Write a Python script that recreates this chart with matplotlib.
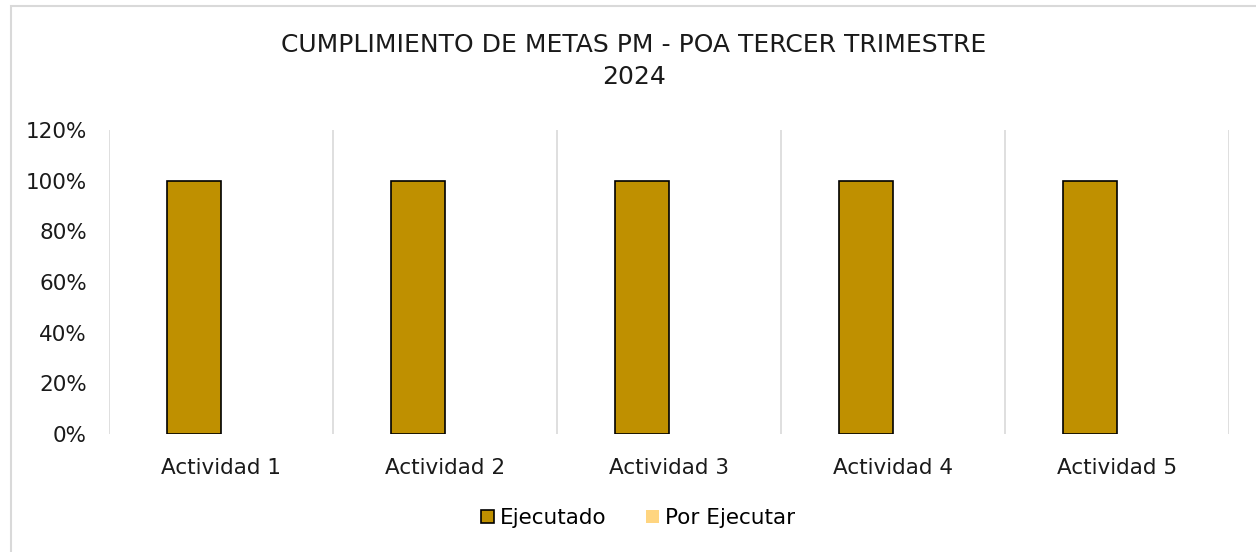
import matplotlib
matplotlib.use("Agg")
import matplotlib.pyplot as plt
from matplotlib.patches import Rectangle, Patch
import numpy as np

categories = ["Actividad 1", "Actividad 2", "Actividad 3", "Actividad 4", "Actividad 5"]
ejecutado = [1.0, 1.0, 1.0, 1.0, 1.0]
por_ejecutar = [0.0, 0.0, 0.0, 0.0, 0.0]
yticks = [0, 0.2, 0.4, 0.6, 0.8, 1.0, 1.2]
ytick_labels = ["0%", "20%", "40%", "60%", "80%", "100%", "120%"]
title = "CUMPLIMIENTO DE METAS PM - POA TERCER TRIMESTRE\n2024"

plt.rcParams['font.family'] = ['DejaVu Sans']

W, H = 1256, 552
fig = plt.figure(figsize=(W / 100, H / 100), dpi=100)
fig.patch.set_facecolor("white")

# chart border (light gray)
fig.patches.append(Rectangle((11 / W, -0.1), 1.2, 1 - 5.5 / H + 0.1, transform=fig.transFigure,
                             fill=False, edgecolor="#d9d9d9", linewidth=1.5))

ax = fig.add_axes([109 / W, 1 - 434 / H, (1229 - 109) / W, (434 - 130) / H])
x = np.arange(len(categories))
w = 0.241
ax.bar(x - w / 2, ejecutado, w, color="#BF9000", edgecolor="black", linewidth=1.2,
       label="Ejecutado", zorder=3)
ax.bar(x + w / 2, por_ejecutar, w, color="#FFD580", label="Por Ejecutar", zorder=3)

ax.set_xlim(-0.5, len(categories) - 0.5)
ax.set_ylim(0, 1.2)
ax.set_yticks(yticks)
ax.set_yticklabels(ytick_labels)
ax.set_xticks(x)
ax.set_xticklabels(categories)
for xv in np.arange(-0.5, len(categories), 1.0):
    ax.axvline(xv, color="#d9d9d9", linewidth=1.2, zorder=1)
for s in ax.spines.values():
    s.set_visible(False)
ax.tick_params(axis="both", length=0, labelsize=15.5, colors="#1a1a1a")
ax.tick_params(axis="y", pad=16)
ax.tick_params(axis="x", pad=17)

fig.text(634 / W, 1 - 61 / H, title, ha="center", va="center", fontsize=18,
         color="#1a1a1a", linespacing=1.4)

handles = [Patch(facecolor="#BF9000", edgecolor="black", linewidth=1.2, label="Ejecutado"),
           Patch(facecolor="#FFD580", edgecolor="none", label="Por Ejecutar")]
fig.legend(handles=handles, loc="center", bbox_to_anchor=(638 / W, 1 - 518 / H), ncol=2,
           frameon=False, fontsize=15.5, handlelength=0.6, handleheight=0.6,
           handletextpad=0.3, columnspacing=1.8)

fig.savefig("out.png", dpi=100, facecolor="white")
